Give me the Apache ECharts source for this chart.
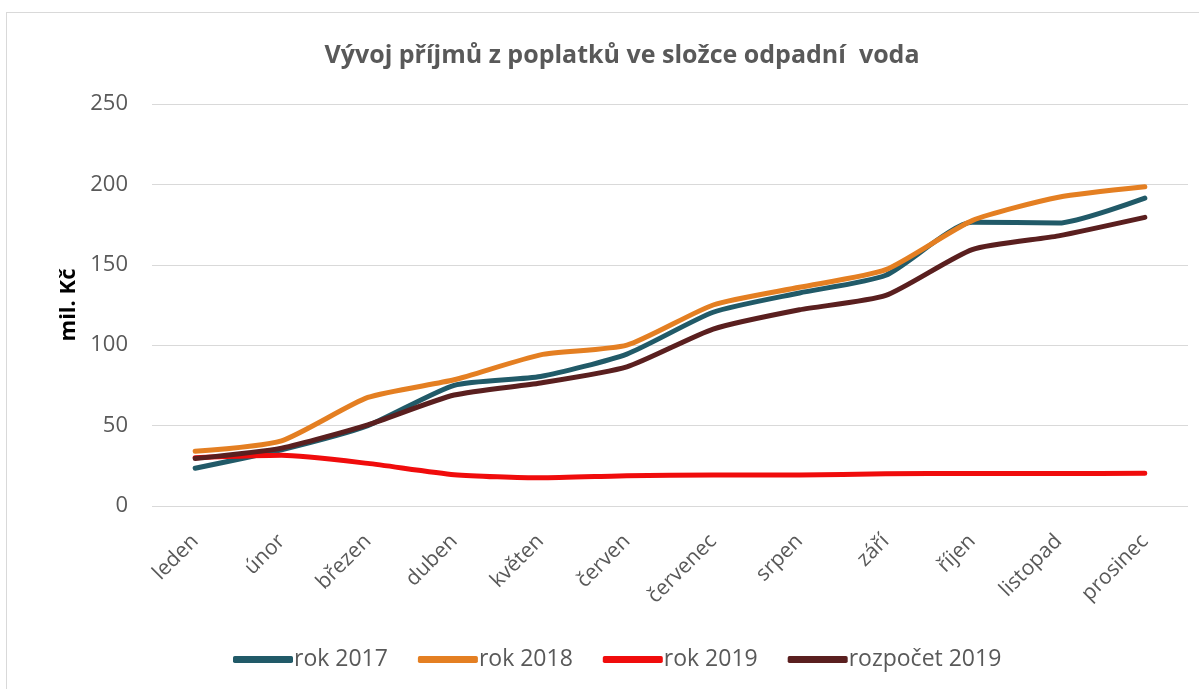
<!DOCTYPE html>
<html>
<head>
<meta charset="utf-8">
<script src="https://cdn.jsdelivr.net/npm/echarts@6/dist/echarts.min.js"></script>
<style>
  html, body { margin: 0; padding: 0; background: #fff; }
  #frame {
    position: absolute; left: 6px; top: 12px; right: 0; bottom: 0;
    border-top: 1px solid #d9d9d9; border-left: 1px solid #d9d9d9;
  }
  #chart { position: absolute; left: 0; top: 0; width: 1199px; height: 689px; }
</style>
</head>
<body>
<div id="frame"></div>
<div id="chart"></div>
<script>
const months = ['leden', 'únor', 'březen', 'duben', 'květen', 'červen',
  'červenec', 'srpen', 'září', 'říjen', 'listopad', 'prosinec']
const rok2017 = [23.5, 35, 50, 75, 80.5, 94.5, 120.5, 132.5, 143.5, 176.5, 176, 191.5]
const rok2018 = [34, 40.5, 67.5, 78.5, 94, 100, 125, 136, 147, 177.5, 192, 198.5]
const rok2019 = [30, 31.5, 26.5, 19.5, 17.5, 18.8, 19.3, 19.3, 20, 20.2, 20.2, 20.3]
const rozpocet2019 = [29.5, 36, 50.5, 69, 76.5, 86.5, 110, 122, 131, 159.5, 168, 179.5]

const names = ['rok 2017', 'rok 2018', 'rok 2019', 'rozpočet 2019']
const colors = ['#215a68', '#e47f22', '#f00c0c', '#5a1f1f']
const values = [rok2017, rok2018, rok2019, rozpocet2019]

const chart = echarts.init(document.getElementById('chart'))

chart.setOption({
  animation: false,
  textStyle: { fontFamily: 'Open Sans' },
  title: {
    text: 'Vývoj příjmů z poplatků ve složce odpadní  voda',
    left: 617,
    top: 38,
    textAlign: 'center',
    textStyle: { fontSize: 25, fontWeight: 'bold', color: '#595959', fontFamily: 'Open Sans' },
  },
  legend: {
    left: 228,
    top: 643,
    itemWidth: 60,
    itemHeight: 7,
    itemGap: 30,
    icon: 'roundRect',
    textStyle: { fontSize: 23, color: '#595959', padding: [0, 0, 0, -4] },
    data: names,
  },
  grid: { left: 152, right: 11, top: 104, bottom: 183 },
  xAxis: {
    type: 'category',
    data: months,
    axisLine: { show: false },
    axisTick: { show: false },
    axisLabel: { rotate: 45, fontSize: 21, color: '#595959', margin: 32 },
  },
  yAxis: {
    type: 'value',
    min: 0,
    max: 250,
    interval: 50,
    name: 'mil. Kč',
    nameLocation: 'middle',
    nameGap: 70,
    nameTextStyle: { fontSize: 22, fontWeight: 'bold', color: '#000' },
    axisLabel: { fontSize: 22, color: '#595959', margin: 24 },
    splitLine: { lineStyle: { color: '#d9d9d9', width: 1 } },
  },
  series: names.map((name, i) => ({
    name,
    type: 'line',
    data: values[i],
    smooth: 0.2,
    symbol: 'none',
    lineStyle: { width: 5, color: colors[i], cap: 'round', join: 'round' },
    itemStyle: { color: colors[i] },
  })),
})
</script>
</body>
</html>
